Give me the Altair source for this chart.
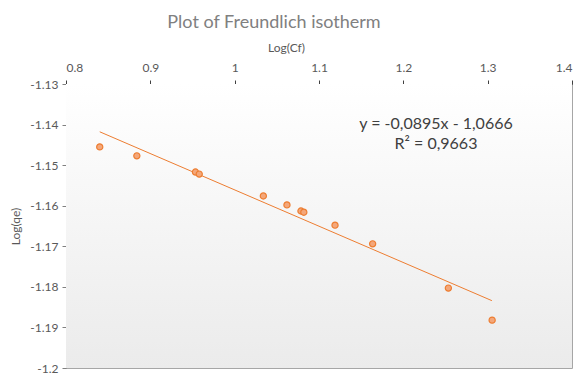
import altair as alt
import pandas as pd

# Data
log_cf = [0.840, 0.884, 0.9535, 0.958, 1.034, 1.062, 1.0786, 1.082, 1.119, 1.1636, 1.2534, 1.3053]
log_qe = [-1.1455, -1.1477, -1.1517, -1.1522, -1.1576, -1.1598, -1.1613, -1.1616, -1.1648, -1.1694, -1.1803, -1.1882]

slope = -0.0895
intercept = -1.0666
fit_x_range = [0.84, 1.305]
equation_lines = ["y = -0,0895x - 1,0666", "R² = 0,9663"]

x_ticks = [0.8, 0.9, 1.0, 1.1, 1.2, 1.3, 1.4]
y_ticks = [-1.2, -1.19, -1.18, -1.17, -1.16, -1.15, -1.14, -1.13]

FONT = "Lato"
W, H = 506, 284

pts = pd.DataFrame({"x": log_cf, "y": log_qe})
fit = pd.DataFrame({"x": fit_x_range, "y": [slope * v + intercept for v in fit_x_range]})

xscale = alt.Scale(domain=[0.8, 1.4], nice=False, zero=False)
yscale = alt.Scale(domain=[-1.2, -1.13], nice=False, zero=False)

xaxis = alt.Axis(
    orient="top", values=x_ticks, format="~g", title="Log(Cf)",
    grid=False, domainColor="#404040", tickColor="#404040", tickSize=4,
    labelPadding=6, titleX=220, titleY=-30, titleAnchor="middle",
)
yaxis = alt.Axis(
    values=y_ticks, format="~g", title="Log(qe)", grid=False,
    labelExpr="replace(datum.label, '\u2212', '-')",
    domainColor="#808080", tickColor="#808080", tickSize=4, labelPadding=4,
    titlePadding=7,
)

bg = alt.Chart(pd.DataFrame({"a": [0]})).mark_rect(
    color=alt.LinearGradient(
        gradient="linear", x1=0, x2=0, y1=0, y2=1,
        stops=[alt.GradientStop(color="#ffffff", offset=0),
               alt.GradientStop(color="#ebebeb", offset=1)],
    )
).encode(x=alt.value(0), x2=alt.value(W), y=alt.value(0), y2=alt.value(H))

line = alt.Chart(fit).mark_line(color="#ED7D31", strokeWidth=1).encode(
    x=alt.X("x:Q", scale=xscale, axis=xaxis),
    y=alt.Y("y:Q", scale=yscale, axis=yaxis),
)

points = alt.Chart(pts).mark_point(
    filled=True, fill="#F4A77A", stroke="#ED7D31", strokeWidth=1.2,
    size=38, opacity=1, shape="circle",
).encode(
    x=alt.X("x:Q", scale=xscale),
    y=alt.Y("y:Q", scale=yscale),
)

eq = alt.Chart(pd.DataFrame({"a": [0]})).mark_text(
    font=FONT, fontSize=16, color="#404040", align="center", baseline="middle",
    lineHeight=20,
).encode(x=alt.value(370), y=alt.value(40), text=alt.value(equation_lines))

chart = alt.layer(bg, line, points, eq).properties(
    width=W, height=H,
    autosize=alt.AutoSizeParams(type="none"),
    padding={"left": 66, "top": 84, "right": 10, "bottom": 6},
    title=alt.TitleParams(
        "Plot of Freundlich isotherm", font=FONT, fontSize=18, fontWeight="normal",
        color="#808080", anchor="middle", dx=-45, dy=24, offset=33,
    ),
).configure_view(stroke="#a6a6a6").configure_axis(
    labelFont=FONT, titleFont=FONT, labelFontSize=12, titleFontSize=12,
    labelColor="#595959", titleColor="#595959", titleFontWeight="normal",
)

chart.save("out.html", embed_options={"renderer": "svg", "actions": False})
